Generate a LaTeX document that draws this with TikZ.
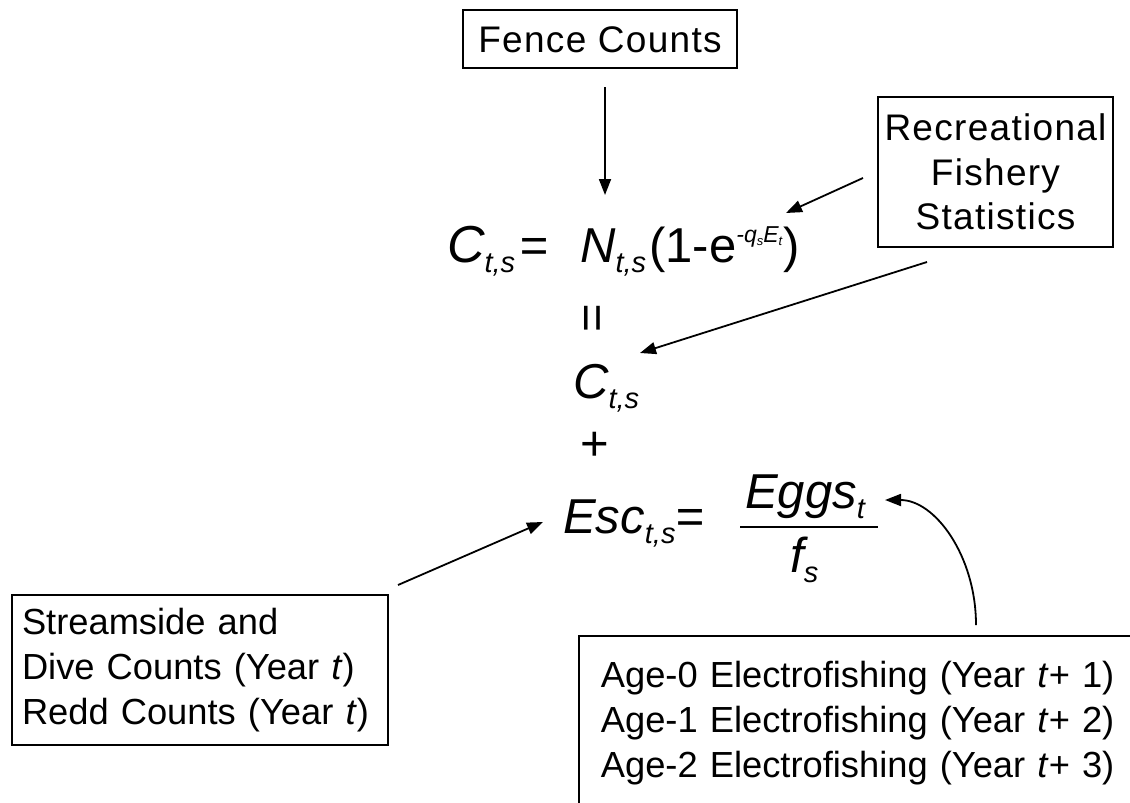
\documentclass[tikz,border=0pt]{standalone}
\usepackage{fontspec}
\setmainfont{Liberation Sans}
\usetikzlibrary{arrows.meta}
\newcommand{\bigfnt}{\fontsize{49}{55}\selectfont}
\newcommand{\subfnt}{\fontsize{29}{32}\selectfont}
\newcommand{\txtfnt}{\fontsize{36.3}{44.8}\selectfont}
\newcommand{\widefnt}{\fontsize{37}{44.5}\selectfont\addfontfeature{LetterSpace=3.5}}
\newcommand{\Sb}[1]{\raisebox{-10pt}{\subfnt #1}}
\newcommand{\tinysb}[1]{\raisebox{-3.5pt}{\fontsize{13}{13}\selectfont #1}}
\begin{document}
\begin{tikzpicture}[x=1pt,y=-1pt,
  box/.style={draw, line width=1.8pt, font=\txtfnt, inner sep=0pt},
  eqn/.style={inner sep=0pt, font=\bigfnt\itshape},
  conn/.style={line width=1.8pt, -{Triangle[length=16pt,width=12pt]}}]
\clip (0,0) rectangle (1130,803);
% boxes
\node[box, font=\widefnt, minimum width=274pt, minimum height=58pt, text height=26pt, text depth=0pt] (fence) at (600,39) {Fence Counts};
\node[box, font=\widefnt, align=center, minimum width=235pt, minimum height=150pt] (rec) at (995.5,172) {Recreational\\Fishery\\Statistics};
\node[box, align=left, text width=356pt, inner xsep=10pt, minimum width=376pt, minimum height=150pt] (stream) at (200,670)
  {Streamside and\\Dive Counts (Year \textit{t})\\Redd Counts (Year \textit{t})};
\node[box, anchor=north west, align=left, text width=560pt, inner xsep=22pt, minimum height=175pt] (electro) at (578,635)
  {Age-0 Electrofishing (Year \textit{t}+ 1)\\Age-1 Electrofishing (Year \textit{t}+ 2)\\Age-2 Electrofishing (Year \textit{t}+ 3)};
% equation
\node[eqn, anchor=base east] (c1) at (548,262) {{\fontsize{52}{56}\selectfont C}\Sb{t,s}\kern4pt=};
\node[eqn, anchor=base west] (n1) at (580,262) {N\Sb{t,s}\kern3pt{\upshape(1-e}\raisebox{20pt}{\fontsize{23}{24}\selectfont\itshape -q\tinysb{s}E\tinysb{t}}\kern1pt{\upshape)}};
\node[eqn, rotate=90, font=\bigfnt] (eqv) at (596,318) {=};
\node[eqn, anchor=base west] (c2) at (573,398) {C\Sb{t,s}};
\node[eqn, font=\bigfnt] (plus) at (595,446) {+};
\node[eqn, anchor=base west] (esc) at (563,533) {Esc\Sb{t,s}=};
\node[eqn, anchor=base west] (eggs) at (745,508) {Eggs\Sb{t}};
\node[eqn, anchor=base west] (fs) at (790,572) {f\Sb{s}};
\draw[line width=2pt] (740,527) -- (878,527);
% connector ends
\coordinate (fenceout) at (605,87);
\coordinate (ntop) at (605,195);
\coordinate (recout1) at (863,178);
\coordinate (expin) at (786,213);
\coordinate (recout2) at (927,262);
\coordinate (c2in) at (640,353);
\coordinate (streamout) at (398,585);
\coordinate (escin) at (543,522);
\coordinate (electroout) at (976,625);
\coordinate (eggsin) at (885,500);
\draw[conn] (fenceout) -- (ntop);
\draw[conn] (recout1) -- (expin);
\draw[conn] (recout2) -- (c2in);
\draw[conn] (streamout) -- (escin);
\draw[conn] (electroout) .. controls (976,556) and (935,500) .. (eggsin);
\end{tikzpicture}
\end{document}
